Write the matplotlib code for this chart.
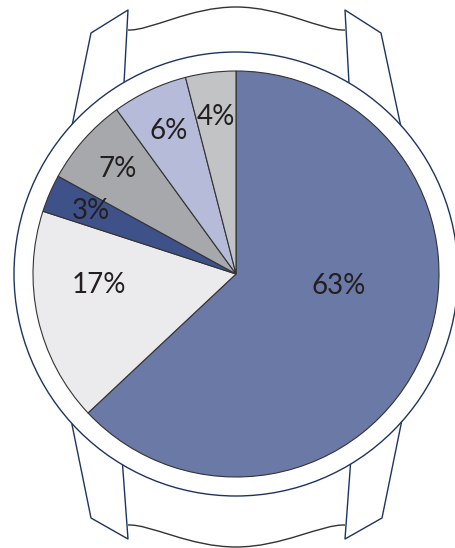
import matplotlib
matplotlib.use('Agg')
import matplotlib.pyplot as plt
import numpy as np
from matplotlib.patches import Circle, PathPatch
from matplotlib.path import Path

plt.rcParams['font.family'] = ['Lato', 'DejaVu Sans']

# Data
shares = [63, 17, 3, 7, 6, 4]
colors = ['#6b79a6', '#ebebee', '#3f5189', '#a7a8ac', '#b5bbd9', '#c2c3c5']

# figure: work in pixel units, y measured from the bottom
W, H = 455, 548
fig = plt.figure(figsize=(W / 100, H / 100), dpi=100)
ax = fig.add_axes([0, 0, 1, 1])

cx, cy = 236, 274
pie_r = 203
bezel_r = 222
strap_col = '#1d3461'
edge_col = '#333333'


def img(pts):
    # image coords (y down) -> axes coords
    return [(x, H - y) for x, y in pts]


# straps (lines run under the bezel, which hides the ends)
strap_lines = [
    [(65, 160), (91, 33), (128, 10), (122, 120)],
    [(408, 160), (381, 33), (345, 10), (351, 120)],
    [(67, 400), (91, 518), (128, 539), (120, 430)],
    [(406, 400), (382, 518), (345, 539), (353, 430)],
]
for line in strap_lines:
    p = np.array(img(line))
    ax.plot(p[:, 0], p[:, 1], color=strap_col, lw=1.0, zorder=1)

# wavy strap ends
def wave(y_end, y_mid, sign):
    verts = [(128, y_end), (150, y_end + sign), (190, y_mid), (236, y_mid),
             (282, y_mid), (322, y_end + sign), (345, y_end)]
    codes = [Path.MOVETO] + [Path.CURVE4] * 6
    return Path(img(verts), codes)

ax.add_patch(PathPatch(wave(30, 7, 1), fill=False, ec=edge_col, lw=1.0, zorder=1))
ax.add_patch(PathPatch(wave(525, 547, -1), fill=False, ec=edge_col, lw=1.0, zorder=1))

# bezel
ax.add_patch(Circle((cx, cy), bezel_r, fc='white', ec=strap_col, lw=1.0, zorder=2))

# pie
wedges, texts, autotexts = ax.pie(
    shares, colors=colors, startangle=90, counterclock=False,
    radius=pie_r, center=(cx, cy), autopct=lambda v: f'{v:.0f}%',
    pctdistance=0.78,
    wedgeprops=dict(edgecolor=edge_col, linewidth=0.8),
    textprops=dict(fontsize=20, color='#231f20'))
for w in wedges:
    w.set_zorder(3)

# the two large slices have their labels moved inward
label_moves = {0: (0.51, -6.6), 1: (0.677, 184.6)}
for i, t in enumerate(autotexts):
    t.set_zorder(4)
    if i in label_moves:
        r, a = label_moves[i]
        t.set_position((cx + r * pie_r * np.cos(np.radians(a)),
                        cy + r * pie_r * np.sin(np.radians(a))))

ax.set_xlim(0, W)
ax.set_ylim(0, H)
ax.set_aspect('equal')
ax.axis('off')

fig.savefig('out.png', dpi=100, facecolor='white')
